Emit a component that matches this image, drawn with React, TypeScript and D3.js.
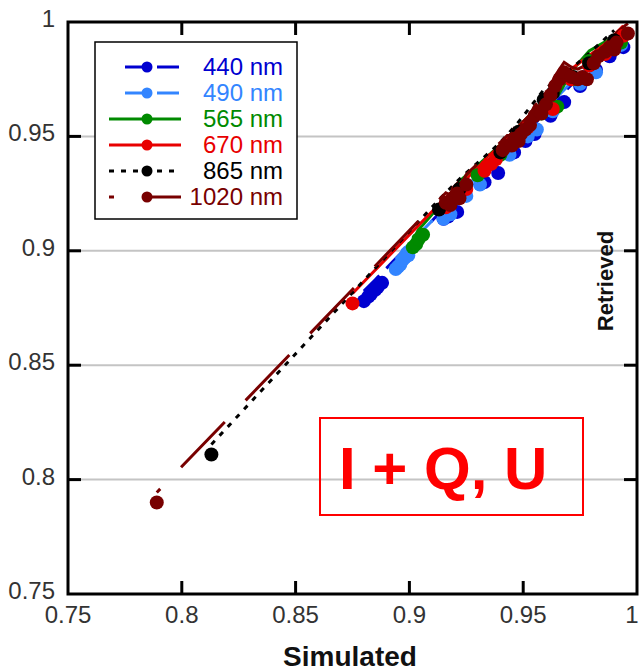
import React from "react";
import * as d3 from "d3";

type P = [number, number];

const xTicks = [0.75, 0.8, 0.85, 0.9, 0.95, 1];
const yTicks = [0.75, 0.8, 0.85, 0.9, 0.95, 1];
const xTickLabels = ["0.75", "0.8", "0.85", "0.9", "0.95", "1"];
const yTickLabels = ["0.75", "0.8", "0.85", "0.9", "0.95", "1"];

const names = ["440 nm", "490 nm", "565 nm", "670 nm", "865 nm", "1020 nm"];
const colors = ["#0000d0", "#3385ff", "#008a00", "#e80000", "#000000", "#780000"];

const s440: P[] = [
  [0.88, 0.878], [0.882, 0.88], [0.883, 0.881], [0.885, 0.883], [0.886, 0.884], [0.888, 0.886],
  [0.915, 0.914], [0.917, 0.915], [0.921, 0.917], [0.933, 0.93], [0.939, 0.934], [0.946, 0.943],
  [0.951, 0.948], [0.955, 0.951], [0.962, 0.959], [0.968, 0.965], [0.975, 0.972], [0.982, 0.979],
  [0.988, 0.985], [0.994, 0.989],
];
const s490: P[] = [
  [0.894, 0.892], [0.895, 0.893], [0.896, 0.894], [0.897, 0.896], [0.898, 0.897], [0.8995, 0.898],
  [0.915, 0.914], [0.918, 0.916], [0.925, 0.924], [0.931, 0.929], [0.944, 0.942], [0.952, 0.95],
  [0.956, 0.953], [0.963, 0.961], [0.975, 0.973], [0.982, 0.978], [0.993, 0.99],
];
const s565: P[] = [
  [0.9015, 0.9015], [0.903, 0.903], [0.904, 0.905], [0.906, 0.907], [0.92, 0.923], [0.922, 0.926],
  [0.93, 0.933], [0.94, 0.942], [0.948, 0.95], [0.958, 0.96], [0.965, 0.963], [0.972, 0.975],
  [0.979, 0.983], [0.993, 0.991],
];
const s670: P[] = [
  [0.875, 0.877], [0.916, 0.919], [0.925, 0.927], [0.933, 0.935], [0.934, 0.937], [0.936, 0.938],
  [0.938, 0.94], [0.945, 0.947], [0.952, 0.954], [0.963, 0.962], [0.971, 0.975], [0.979, 0.981],
  [0.986, 0.986], [0.994, 0.994],
];
const s865: P[] = [
  [0.813, 0.811], [0.913, 0.918], [0.922, 0.927], [0.94, 0.943], [0.948, 0.952], [0.959, 0.966],
  [0.963, 0.969], [0.972, 0.976], [0.979, 0.982], [0.99, 0.992],
];
const s1020: P[] = [
  [0.789, 0.79], [0.916, 0.921], [0.918, 0.92], [0.919, 0.923], [0.921, 0.925], [0.922, 0.923],
  [0.925, 0.929], [0.941, 0.944], [0.943, 0.946], [0.945, 0.946], [0.946, 0.949], [0.948, 0.948],
  [0.949, 0.951], [0.951, 0.953], [0.953, 0.955], [0.955, 0.959], [0.957, 0.961], [0.958, 0.96],
  [0.96, 0.964], [0.962, 0.968], [0.964, 0.972], [0.966, 0.975], [0.968, 0.978], [0.971, 0.976],
  [0.974, 0.975], [0.976, 0.976], [0.978, 0.975], [0.981, 0.982], [0.983, 0.985], [0.986, 0.987],
  [0.988, 0.989], [0.99, 0.988], [0.991, 0.991], [0.996, 0.995],
];

const seriesData = [s440, s490, s565, s670, s865, s1020];
const dashes = ["22,10", "22,10", "", "", "5,7", "63,30"];
const dashOffsets = [0, 0, 0, 0, 0, 58];

const FONT = "'Liberation Sans', Arial, Helvetica, sans-serif";

export default function App() {
  const W = 640;
  const H = 671;
  const x = d3.scaleLinear().domain([0.75, 1]).range([68, 637]);
  const y = d3.scaleLinear().domain([0.75, 1]).range([594, 22]);
  const line = d3
    .line<P>()
    .x((d) => x(d[0]))
    .y((d) => y(d[1]));
  // lines in the source figure sit slightly above their markers
  const lineShift = -10;

  const legX = 95;
  const legY = 42;
  const rowY0 = 67;
  const rowStep = 26;

  return (
    <svg
      width={W}
      height={H}
      style={{ position: "absolute", left: 0, top: 0, background: "#fff" }}
      fontFamily={FONT}
    >
      <rect x={0} y={0} width={W} height={H} fill="#fff" />
      {yTicks.slice(1, -1).map((t) => (
        <line key={"g" + t} x1={x(0.75)} x2={x(1)} y1={y(t)} y2={y(t)} stroke="#c4c4c4" strokeWidth={2} />
      ))}

      {seriesData.map((s, i) => (
        <path
          key={"l" + i}
          d={line(s) || ""}
          transform={`translate(0,${lineShift})`}
          fill="none"
          stroke={colors[i]}
          strokeWidth={3}
          strokeDasharray={dashes[i] || undefined}
          strokeDashoffset={dashOffsets[i]}
        />
      ))}
      {seriesData.map((s, i) => (
        <g key={"m" + i}>
          {s.map((d, j) => (
            <circle key={j} cx={x(d[0])} cy={y(d[1])} r={7} fill={colors[i]} />
          ))}
        </g>
      ))}

      <rect x={x(0.75)} y={y(1)} width={x(1) - x(0.75)} height={y(0.75) - y(1)} fill="none" stroke="#000" strokeWidth={3} />
      {xTicks.slice(1, -1).map((t) => (
        <g key={"xt" + t}>
          <line x1={x(t)} x2={x(t)} y1={y(0.75)} y2={y(0.75) - 13} stroke="#000" strokeWidth={3} />
          <line x1={x(t)} x2={x(t)} y1={y(1)} y2={y(1) + 13} stroke="#000" strokeWidth={3} />
        </g>
      ))}
      {yTicks.slice(1, -1).map((t) => (
        <g key={"yt" + t}>
          <line x1={x(0.75)} x2={x(0.75) + 13} y1={y(t)} y2={y(t)} stroke="#000" strokeWidth={3} />
          <line x1={x(1)} x2={x(1) - 13} y1={y(t)} y2={y(t)} stroke="#000" strokeWidth={3} />
        </g>
      ))}

      {xTicks.map((t, i) => (
        <text key={"xl" + t} x={Math.min(x(t), 632)} y={623} fontSize={24} fill="#333" textAnchor="middle">
          {xTickLabels[i]}
        </text>
      ))}
      {yTicks.map((t, i) => (
        <text key={"yl" + t} x={55} y={y(t) + 5} fontSize={24} fill="#333" textAnchor="end">
          {yTickLabels[i]}
        </text>
      ))}

      <text x={350} y={666} fontSize={28} fontWeight="bold" textAnchor="middle" fill="#111">
        Simulated
      </text>
      <text
        transform={`translate(613,281) rotate(-90)`}
        fontSize={22}
        fontWeight="bold"
        textAnchor="middle"
        fill="#111"
      >
        Retrieved
      </text>

      <rect x={legX} y={legY} width={202} height={177} fill="#fff" stroke="#000" strokeWidth={1.5} />
      {names.map((n, i) => {
        const ry = rowY0 + i * rowStep;
        const solid = dashes[i] === "";
        const x1 = i < 2 ? 125 : 109;
        return (
          <g key={"lg" + i}>
            <line
              x1={x1}
              x2={181}
              y1={ry}
              y2={ry}
              stroke={colors[i]}
              strokeWidth={3}
              strokeDasharray={solid ? undefined : dashes[i]}
              strokeDashoffset={dashOffsets[i]}
            />
            <circle cx={147} cy={ry} r={5.5} fill={colors[i]} />
            <text x={283} y={ry + 8} fontSize={24} fill={colors[i]} textAnchor="end">
              {n}
            </text>
          </g>
        );
      })}

      <rect x={320} y={418} width={263} height={97} fill="none" stroke="#ff0000" strokeWidth={2} />
      <text x={339} y={489} fontSize={60} fontWeight="bold" fill="#ff0000">
        I + Q, U
      </text>
    </svg>
  );
}
